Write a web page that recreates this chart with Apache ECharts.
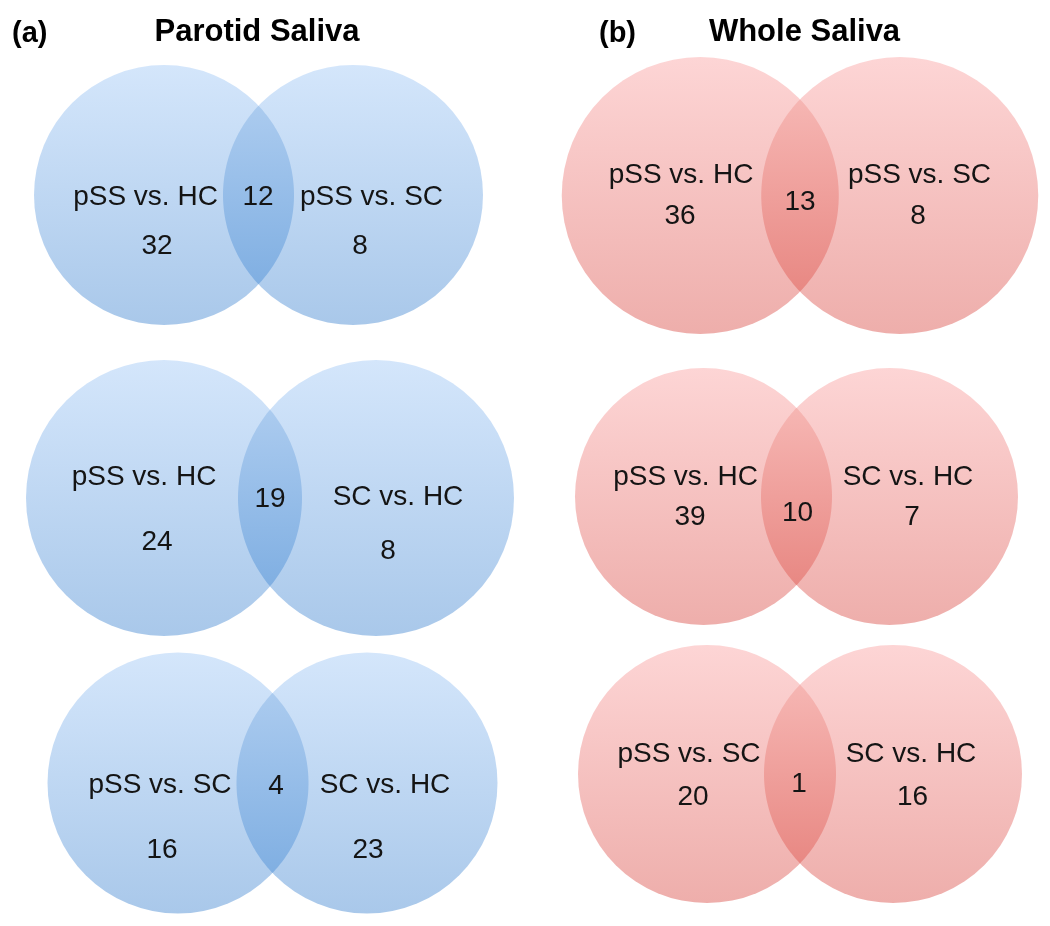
<!DOCTYPE html>
<html>
<head>
<meta charset="utf-8">
<script src="https://cdn.jsdelivr.net/npm/echarts@6/dist/echarts.min.js"></script>
<style>html,body{margin:0;padding:0;background:#fff}#chart{width:1050px;height:926px}</style>
</head>
<body>
<div id="chart"></div>
<script>
// ---- data ----
const panelTags = ['(a)', '(b)'];
const panelTitles = ['Parotid Saliva', 'Whole Saliva'];
const vennPanel = [0, 0, 0, 1, 1, 1];
const leftSets  = ['pSS vs. HC', 'pSS vs. HC', 'pSS vs. SC', 'pSS vs. HC', 'pSS vs. HC', 'pSS vs. SC'];
const rightSets = ['pSS vs. SC', 'SC vs. HC',  'SC vs. HC',  'pSS vs. SC', 'SC vs. HC',  'SC vs. HC'];
const leftOnly  = [32, 24, 16, 36, 39, 20];
const shared    = [12, 19, 4, 13, 10, 1];
const rightOnly = [8, 8, 23, 8, 7, 16];

// ---- layout (pixels) ----
const vennMid = [[258.5, 195], [270, 498], [272.5, 783], [800, 195.5], [796.5, 496.5], [800, 774]];
const vennR   = [130, 138, 130.5, 138.5, 128.5, 129];
const vennGap = [189, 212, 189, 199.5, 186, 186];
// offsets: left label, left count, shared count, right label, right count
const labelOffsets = [
  [[-113, 2], [-101.5, 51], [-0.5, 2], [113, 2], [101.5, 51]],
  [[-126, -21], [-113, 44.5], [0, 1], [128, -0.5], [118, 53]],
  [[-112.5, 2], [-110.5, 67], [3.5, 3], [112.5, 2], [95.5, 67]],
  [[-119, -20.5], [-120, 20.5], [0, 6.5], [119.5, -20.5], [118, 20.5]],
  [[-111, -19.5], [-106.5, 21], [1, 16.5], [111.5, -19.5], [115.5, 20.5]],
  [[-111, -20], [-107, 23.5], [-1, 10], [111, -20], [112.5, 23]]
];
const titlePos = [[12, 34, 257, 32.5], [599, 34, 804.5, 32]];
const palettes = [
  { top: '#d4e6fb', bottom: '#a9c8ea', lensTop: '#abcbef', lensBottom: '#80afe2' },
  { top: '#fdd5d5', bottom: '#eeaeab', lensTop: '#f6b6b3', lensBottom: '#e88883' }
];
const FONT = '"Liberation Sans", Arial, Helvetica, sans-serif';

const chart = echarts.init(document.getElementById('chart'), null, { renderer: 'canvas' });

function grad(c1, c2) {
  return new echarts.graphic.LinearGradient(0, 0, 0, 1, [
    { offset: 0, color: c1 }, { offset: 1, color: c2 }
  ]);
}

function makeRender(i) {
  const r = vennR[i], h = vennGap[i] / 2;
  const pal = palettes[vennPanel[i]];
  const offs = labelOffsets[i];
  return function (params, api) {
    const lc = api.coord([-h, 0]);
    const rc = api.coord([h, 0]);
    const R = api.size([r, 0])[0];
    const alpha = Math.acos(h / r);
    const pts = [];
    const N = 80;
    for (let j = 0; j <= N; j++) {
      const t = -alpha + (2 * alpha * j) / N;
      pts.push(api.coord([-h + r * Math.cos(t), r * Math.sin(t)]));
    }
    for (let j = 0; j <= N; j++) {
      const t = alpha - (2 * alpha * j) / N;
      pts.push(api.coord([h - r * Math.cos(t), r * Math.sin(t)]));
    }
    const texts = [leftSets[i], api.value(2), api.value(3), rightSets[i], api.value(4)];
    const children = [
      { type: 'circle', shape: { cx: lc[0], cy: lc[1], r: R }, style: { fill: grad(pal.top, pal.bottom) } },
      { type: 'circle', shape: { cx: rc[0], cy: rc[1], r: R }, style: { fill: grad(pal.top, pal.bottom) } },
      { type: 'polygon', shape: { points: pts }, style: { fill: grad(pal.lensTop, pal.lensBottom) } }
    ];
    texts.forEach(function (t, k) {
      const p = api.coord(offs[k]);
      children.push({
        type: 'text',
        style: {
          text: String(t), x: p[0], y: p[1],
          font: '28px ' + FONT, fill: '#141414',
          align: 'center', verticalAlign: 'middle'
        }
      });
    });
    return { type: 'group', children: children };
  };
}

const grids = [], xAxes = [], yAxes = [], series = [];
for (let i = 0; i < leftOnly.length; i++) {
  const m = vennMid[i], r = vennR[i], hw = r + vennGap[i] / 2;
  grids.push({ left: m[0] - hw, top: m[1] - r, width: 2 * hw, height: 2 * r });
  xAxes.push({ type: 'value', gridIndex: i, min: -hw, max: hw, show: false });
  yAxes.push({ type: 'value', gridIndex: i, min: -r, max: r, inverse: true, show: false });
  series.push({
    type: 'custom', xAxisIndex: i, yAxisIndex: i, silent: true,
    encode: { x: 0, y: 1 },
    data: [[0, 0, leftOnly[i], shared[i], rightOnly[i]]],
    renderItem: makeRender(i)
  });
}

const graphics = [];
panelTags.forEach(function (tag, p) {
  const tp = titlePos[p];
  graphics.push({ type: 'text', x: tp[0], y: tp[1], style: { text: tag, font: 'bold 29px ' + FONT, fill: '#000', align: 'left', verticalAlign: 'middle' } });
  graphics.push({ type: 'text', x: tp[2], y: tp[3], style: { text: panelTitles[p], font: 'bold 31px ' + FONT, fill: '#000', align: 'center', verticalAlign: 'middle' } });
});

chart.setOption({
  backgroundColor: '#ffffff',
  animation: false,
  grid: grids, xAxis: xAxes, yAxis: yAxes, series: series,
  graphic: graphics
});
</script>
</body>
</html>
